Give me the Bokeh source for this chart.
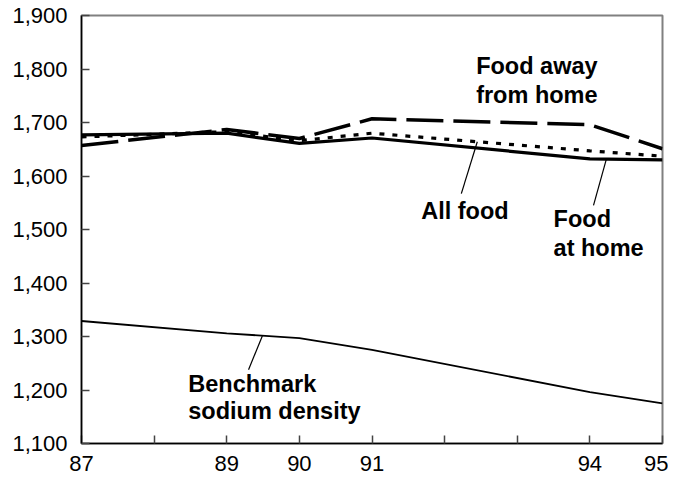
from bokeh.plotting import figure
from bokeh.models import FixedTicker, NumeralTickFormatter, Range1d
from bokeh.embed import file_html
from bokeh.resources import INLINE
from bokeh.core.properties import value

# ---- data ----
years = [87, 89, 90, 91, 94, 95]
food_at_home = [1677, 1680, 1661, 1671, 1632, 1630]
all_food = [1673, 1683, 1666, 1680, 1647, 1637]
food_away = [1657, 1687, 1670, 1707, 1696, 1651]
benchmark = [1329, 1306, 1297, 1275, 1196, 1175]

x_ticks = [87, 88, 89, 90, 91, 92, 93, 94, 95]
x_tick_labels = ["87", "", "89", "90", "91", "", "", "94", "95"]
y_ticks = [1100, 1200, 1300, 1400, 1500, 1600, 1700, 1800, 1900]

# annotation labels (data-space anchors)
label_text = ["Food away", "from home", "All food", "Food", "at home", "Benchmark", "sodium density"]
label_x = [93.27, 93.27, 92.28, 93.50, 93.50, 88.47, 88.47]
label_y = [1805, 1752, 1535, 1520, 1466, 1212, 1160]
label_align = ["center", "center", "center", "left", "left", "left", "left"]

# leader lines: (x0, y0, x1, y1)
lead_x0 = [92.23, 94.05, 89.30]
lead_y0 = [1567, 1545, 1238]
lead_x1 = [92.45, 94.23, 89.49]
lead_y1 = [1664, 1633, 1301]

FONT = "Liberation Sans"

p = figure(width=668, height=482, output_backend="svg", toolbar_location=None,
           x_range=Range1d(87, 95), y_range=Range1d(1100, 1900),
           min_border_left=81, min_border_right=6, min_border_top=15, min_border_bottom=39)
p.background_fill_color = "white"
p.border_fill_color = "white"
p.grid.visible = False
p.outline_line_color = "#808080"
p.outline_line_width = 2

p.xaxis.ticker = FixedTicker(ticks=x_ticks)
p.xaxis.major_label_overrides = {t: l for t, l in zip(x_ticks, x_tick_labels)}
p.yaxis.ticker = FixedTicker(ticks=y_ticks)
p.yaxis.formatter = NumeralTickFormatter(format="0,0")

for ax in (p.xaxis, p.yaxis):
    ax.axis_line_color = "black"
    ax.axis_line_width = 1.5
    ax.major_tick_in = 8
    ax.major_tick_out = 0
    ax.minor_tick_in = 0
    ax.minor_tick_out = 0
    ax.major_tick_line_color = "#444444"
    ax.major_tick_line_width = 1.5
    ax.major_label_text_font = FONT
    ax.major_label_text_font_size = "22px"
    ax.major_label_text_color = "black"
p.xaxis.major_label_standoff = 12
p.yaxis.major_label_standoff = 14

# series
p.line(years, benchmark, line_color="black", line_width=1.8)
p.line(years, food_at_home, line_color="black", line_width=3.2)
p.line(years, all_food, line_color="black", line_width=3.2, line_dash="5 8")
p.line(years, food_away, line_color="black", line_width=3.5, line_dash="37 10")

# leader lines
p.segment(lead_x0, lead_y0, lead_x1, lead_y1, line_color="black", line_width=1.2)

# labels
for t, x, y, a in zip(label_text, label_x, label_y, label_align):
    p.text([x], [y], text=[t], text_font=value(FONT), text_font_style="bold",
           text_font_size="23.5px", text_align=a, text_baseline="middle", text_color="black")

open("out.html", "w").write(file_html(p, INLINE))
